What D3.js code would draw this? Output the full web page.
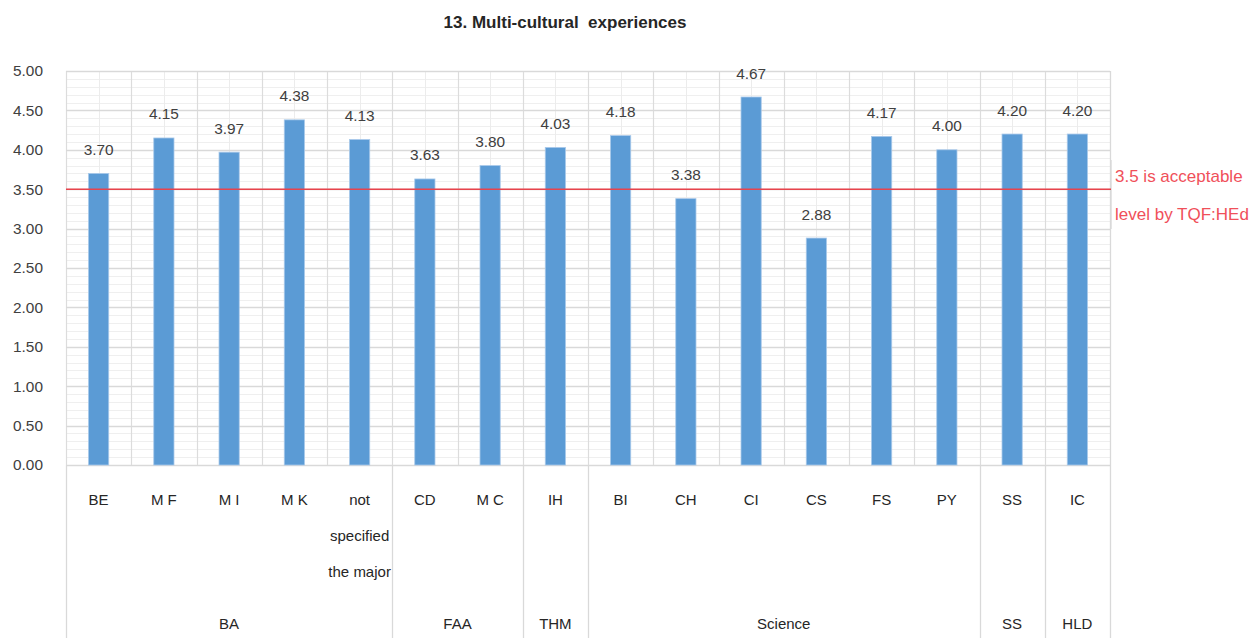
<!DOCTYPE html>
<html>
<head>
<meta charset="utf-8">
<script src="https://cdn.jsdelivr.net/npm/d3@7/dist/d3.min.js"></script>
<style>
  html, body { margin: 0; padding: 0; background: #ffffff; }
  svg { display: block; font-family: "Liberation Sans", Arial, sans-serif; }
</style>
</head>
<body>
<svg id="chart" width="1256" height="638"></svg>
<script>
// ---- data ----
const categories = ["BE", "MF", "MI", "MK", "not specified the major", "CD", "MC", "IH", "BI", "CH", "CI", "CS", "FS", "PY", "SS", "IC"];
const values = [3.70, 4.15, 3.97, 4.38, 4.13, 3.63, 3.80, 4.03, 4.18, 3.38, 4.67, 2.88, 4.17, 4.00, 4.20, 4.20];
const groups = ["BA", "FAA", "THM", "Science", "SS", "HLD"];
const groupSizes = [5, 2, 1, 6, 1, 1];
const yTicks = [0, 0.5, 1, 1.5, 2, 2.5, 3, 3.5, 4, 4.5, 5];
const threshold = 3.5;
const titleText = "13. Multi-cultural  experiences";
const noteLines = ["3.5 is acceptable", "level by TQF:HEd"];
const catLabelLines = [["BE"], ["M F"], ["M I"], ["M K"], ["not", "specified", "the major"], ["CD"], ["M C"], ["IH"], ["BI"], ["CH"], ["CI"], ["CS"], ["FS"], ["PY"], ["SS"], ["IC"]];

(function () {
// ---- layout ----
const svg = d3.select("#chart");
const pLeft = 66, pRight = 1110, pTop = 71, pBottom = 465, axisBottom = 638;

const x = d3.scaleBand().domain(categories).range([pLeft, pRight]).padding(0);
const y = d3.scaleLinear().domain([0, 5]).range([pBottom, pTop]);
const bw = x.bandwidth();
const barW = bw * 0.31;

// minor horizontal grid (every 0.1)
const minor = d3.range(0, 51).map(i => i / 10).filter(v => Math.round(v * 10) % 5 !== 0);
svg.append("g").selectAll("line").data(minor).join("line")
  .attr("x1", pLeft).attr("x2", pRight)
  .attr("y1", d => Math.round(y(d)) + 0.5).attr("y2", d => Math.round(y(d)) + 0.5)
  .attr("stroke", "#efefef").attr("stroke-width", 1);

// vertical mid-category lines (light)
svg.append("g").selectAll("line").data(categories).join("line")
  .attr("x1", d => Math.round(x(d) + bw / 2) + 0.5).attr("x2", d => Math.round(x(d) + bw / 2) + 0.5)
  .attr("y1", pTop).attr("y2", pBottom)
  .attr("stroke", "#ececec").attr("stroke-width", 1);

// vertical category boundary lines inside plot
svg.append("g").selectAll("line").data(categories).join("line")
  .attr("x1", d => Math.round(x(d)) + 0.5).attr("x2", d => Math.round(x(d)) + 0.5)
  .attr("y1", pTop).attr("y2", pBottom)
  .attr("stroke", "#dcdcdc").attr("stroke-width", 1.2);

// major horizontal grid
svg.append("g").selectAll("line").data(yTicks).join("line")
  .attr("x1", pLeft).attr("x2", pRight)
  .attr("y1", d => Math.round(y(d)) + 0.5).attr("y2", d => Math.round(y(d)) + 0.5)
  .attr("stroke", "#d9d9d9").attr("stroke-width", 1.3);

// right border
svg.append("line")
  .attr("x1", pRight + 0.5).attr("x2", pRight + 0.5).attr("y1", pTop).attr("y2", axisBottom)
  .attr("stroke", "#d9d9d9").attr("stroke-width", 1.3);

// group separators below axis
let cum = 0;
const groupStarts = groupSizes.map(s => { const st = cum; cum += s; return st; });
const groupBounds = groupStarts.map((st, i) => ({
  name: groups[i],
  x0: x(categories[st]),
  x1: x(categories[st + groupSizes[i] - 1]) + bw
}));
svg.append("g").selectAll("line").data(groupBounds).join("line")
  .attr("x1", d => Math.round(d.x0) + 0.5).attr("x2", d => Math.round(d.x0) + 0.5)
  .attr("y1", pBottom).attr("y2", axisBottom)
  .attr("stroke", "#d9d9d9").attr("stroke-width", 1.3);

// bars
svg.append("g").selectAll("rect").data(categories).join("rect")
  .attr("x", (d) => x(d) + (bw - barW) / 2)
  .attr("y", (d, i) => y(values[i]))
  .attr("width", barW)
  .attr("height", (d, i) => y(0) - y(values[i]))
  .attr("fill", "#5b9bd5")
  .attr("stroke", "#a9c9ea").attr("stroke-width", 0.8);

// value labels
svg.append("g").selectAll("text").data(categories).join("text")
  .attr("x", d => x(d) + bw / 2)
  .attr("y", (d, i) => y(values[i]) - 18.5)
  .attr("text-anchor", "middle")
  .attr("font-size", 15.4)
  .attr("fill", "#404040")
  .text((d, i) => values[i].toFixed(2));

// y axis
const yAxis = d3.axisLeft(y).tickValues(yTicks).tickSize(0).tickPadding(0).tickFormat(d3.format(".2f"));
const gy = svg.append("g").attr("transform", `translate(43,0)`).call(yAxis);
gy.select(".domain").remove();
gy.selectAll("text").attr("font-size", 15.4).attr("fill", "#404040")
  .attr("font-family", "Liberation Sans, Arial, sans-serif");

// threshold line
svg.append("line")
  .attr("x1", pLeft).attr("x2", pRight + 2)
  .attr("y1", y(threshold)).attr("y2", y(threshold))
  .attr("stroke", "#e8434c").attr("stroke-width", 1.6);

// annotation box border (faint)
svg.append("line")
  .attr("x1", pRight + 1.5).attr("x2", pRight + 1.5).attr("y1", 160).attr("y2", 229)
  .attr("stroke", "#e4e4e4").attr("stroke-width", 1);

// annotation text
svg.append("g").selectAll("text").data(noteLines).join("text")
  .attr("x", pRight + 5)
  .attr("y", (d, i) => 182 + i * 37.5)
  .attr("font-size", 17)
  .attr("fill", "#f0505a")
  .text(d => d);

// category labels
const catG = svg.append("g").selectAll("text").data(categories).join("text")
  .attr("text-anchor", "middle")
  .attr("font-size", 15)
  .attr("fill", "#262626");
catG.each(function(d, i) {
  const t = d3.select(this);
  catLabelLines[i].forEach((ln, j) => {
    t.append("tspan").attr("x", x(d) + bw / 2).attr("y", 505 + j * 36).text(ln);
  });
});

// group labels
svg.append("g").selectAll("text").data(groupBounds).join("text")
  .attr("x", d => (d.x0 + d.x1) / 2)
  .attr("y", 629)
  .attr("text-anchor", "middle")
  .attr("font-size", 15)
  .attr("fill", "#262626")
  .text(d => d.name);

// title
svg.append("text")
  .attr("x", 565).attr("y", 28)
  .attr("text-anchor", "middle")
  .attr("font-size", 17)
  .attr("font-weight", "bold")
  .attr("fill", "#262626")
  .style("white-space", "pre")
  .text(titleText);
})();
</script>
</body>
</html>
